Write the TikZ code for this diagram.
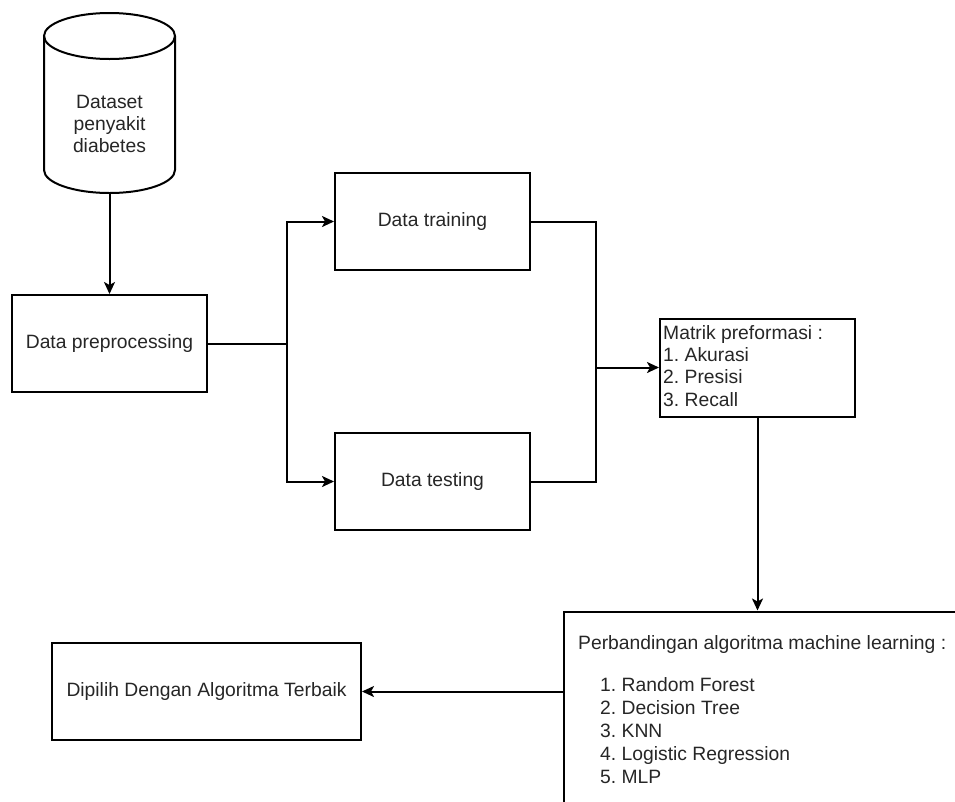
\documentclass[tikz,border=0pt]{standalone}
\usepackage{fontspec}
\setmainfont{Liberation Sans}
\usetikzlibrary{arrows.meta}
\begin{document}
\frenchspacing
\begin{tikzpicture}[x=1pt,y=-1pt,
  line/.style={line width=2pt, draw=black},
  arr/.style={line, -{Stealth[length=12pt,width=11pt,inset=3pt]}},
  box/.style={line, rectangle, inner sep=0pt, font=\fontsize{19.3}{22.3}\selectfont},
  txt/.style={inner sep=0pt, text=black!85, font=\fontsize{19.3}{22.3}\selectfont}]
\clip (0,0) rectangle (955,801);
% cylinder
\node[minimum width=131pt, minimum height=180pt, inner sep=0pt] (db) at (109.5,103) {};
\draw[line, fill=white] (44,36) -- (44,170) arc[start angle=180, end angle=0, x radius=65.5, y radius=23] -- (175,36);
\draw[line] (109.5,36) ellipse [x radius=65.5, y radius=23];
\node[txt, align=center, font=\fontsize{19.3}{21.7}\selectfont] (dbt) at (109.5,124) {Dataset\\penyakit\\diabetes};
% boxes
\node[box, text=black!85, minimum width=195pt, minimum height=97pt] (pre) at (109.5,343.5) {Data preprocessing};
\node[box, text=black!85, minimum width=195pt, minimum height=97pt] (train) at (432.5,221.5) {Data training};
\node[box, text=black!85, minimum width=195pt, minimum height=97pt] (test) at (432.5,481.5) {Data testing};
\node[box, minimum width=195pt, minimum height=98pt] (mat) at (757.5,367.5) {};
\node[txt, anchor=north west, align=left] (matt) at (663,325) {Matrik preformasi :\\1. Akurasi\\2. Presisi\\3. Recall};
\node[box, text=black!85, minimum width=309pt, minimum height=97pt] (dip) at (206.5,691.5) {Dipilih Dengan Algoritma Terbaik};
\node[box, anchor=north west, minimum width=450pt, minimum height=260pt] (cmp) at (562.5,610.5) {};
\node[txt, anchor=base west] (cmpt) at (578,649) {Perbandingan algoritma machine learning :};
\node[txt, anchor=north west, align=left, font=\fontsize{19.3}{23}\selectfont] (cmpl) at (600,677) {1. Random Forest\\2. Decision Tree\\3. KNN\\4. Logistic Regression\\5. MLP};
% connectors
\coordinate (split) at (287,343.5);
\coordinate (merge) at (596,367.5);
\draw[arr] (db.south) -- (pre.north);
\draw[line] (pre.east) -- (split);
\draw[arr] (split) |- (train.west);
\draw[arr] (split) |- (test.west);
\draw[line] (train.east) -| (merge);
\draw[line] (test.east) -| (merge);
\draw[arr] (merge) -- (mat.west);
\draw[arr] (mat.south) -- (mat.south |- cmp.north);
\draw[arr] (cmp.west |- dip.east) -- (dip.east);
\end{tikzpicture}
\end{document}
